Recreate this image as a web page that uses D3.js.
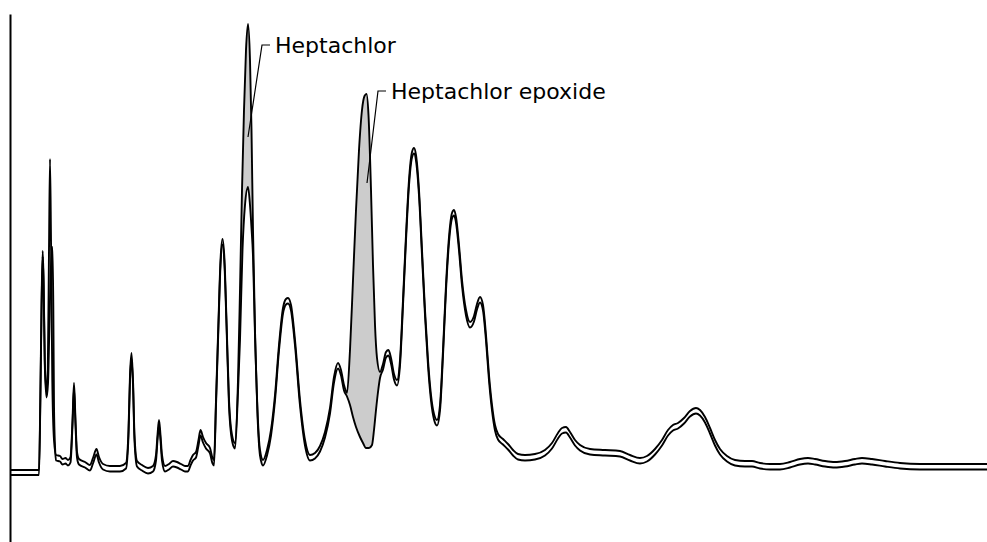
<!DOCTYPE html>
<html>
<head>
<meta charset="utf-8">
<script src="https://cdn.jsdelivr.net/npm/d3@7"></script>
<style>
  body { margin: 0; background: #fff; }
  svg { display: block; }
  .trace { fill: none; stroke: #000; stroke-width: 1.9; stroke-linejoin: round; }
  .leader { fill: none; stroke: #000; stroke-width: 1.2; }
  .label { font-family: "DejaVu Sans", sans-serif; font-size: 22px; fill: #000; }
</style>
</head>
<body>
<div class="viz"></div>
<script>
const width = 987;
const height = 542;

// retention time (min), detector signal — upper trace (sample)
const sampleTrace = [
  [0, 1.2], [1.425, 1.2], [1.45, 1.2], [1.515, 15.2], [1.58, 35.2], [1.635, 45], [1.68, 39.2], [1.74, 23.2],
  [1.825, 16.8], [1.89, 21.2], [1.95, 45.2], [2.0, 63.4], [2.05, 47.2], [2.115, 19.2], [2.2, 7.2], [2.3, 4.2],
  [2.5, 4], [2.625, 3.4], [2.775, 3.6], [2.9, 3.2], [3.025, 3.8], [3.125, 11.2], [3.2, 18.6], [3.275, 11.2],
  [3.35, 4.8], [3.45, 3.4], [3.75, 2.8], [4.0, 2.2], [4.15, 3.6], [4.325, 5.4], [4.45, 3.8], [4.65, 2.4],
  [5.0, 2.0], [5.5, 2.0], [5.8, 2.6], [5.925, 9.2], [6.0, 20.2], [6.075, 24.6], [6.15, 19.2], [6.225, 8.2],
  [6.35, 3], [6.6, 2.2], [6.9, 1.6], [7.15, 2], [7.3, 4.2], [7.375, 8.2], [7.45, 11.2], [7.525, 8.2],
  [7.6, 4.2], [7.75, 2], [7.95, 2.4], [8.15, 3], [8.35, 2.8], [8.55, 2.4], [8.75, 2], [8.9, 2],
  [9.025, 3.2], [9.15, 4.2], [9.3, 4.8], [9.425, 7.2], [9.525, 9.2], [9.65, 7.8], [9.8, 6.6], [10.0, 5.6],
  [10.125, 3.6], [10.2, 3.2], [10.3, 15.2], [10.425, 31.2], [10.525, 43.2], [10.625, 47.4], [10.725, 43.2],
  [10.825, 31.2], [10.95, 15.2], [11.1, 8.2], [11.25, 6.6], [11.4, 19.2], [11.5, 37.2], [11.6, 57.2],
  [11.7, 73.2], [11.8, 85.2], [11.9, 90.4], [12.0, 83.2], [12.075, 69.2], [12.15, 49.2], [12.25, 29.2],
  [12.375, 13.2], [12.5, 5.2], [12.65, 3.2], [12.85, 5.2], [13.05, 9.2], [13.25, 16.2], [13.45, 26.2],
  [13.65, 33.6], [13.8, 35.4], [13.9, 35.6], [14.05, 34.2], [14.25, 27.2], [14.5, 15.2], [14.75, 7.2],
  [15.0, 4.2], [15.25, 4.6], [15.5, 6], [15.75, 8.8], [16.0, 13.6], [16.2, 19.8], [16.4, 22.6], [16.55, 21.2],
  [16.7, 18.2], [16.85, 16.6], [17.0, 25.2], [17.15, 39.2], [17.3, 53.2], [17.45, 65.2], [17.6, 73.2],
  [17.725, 76], [17.825, 76.4], [17.925, 72.2], [18.05, 57.2], [18.15, 42.2], [18.25, 30.2], [18.35, 23.6],
  [18.5, 20.8], [18.65, 22.4], [18.8, 24.8], [18.925, 25.2], [19.05, 23.6], [19.2, 20.4], [19.35, 19.2],
  [19.5, 23.2], [19.65, 35.2], [19.8, 48.2], [19.95, 59.2], [20.1, 64.8], [20.2, 65.6], [20.3, 64.2],
  [20.45, 57.2], [20.6, 45.2], [20.75, 33.2], [20.9, 23.2], [21.05, 16.2], [21.2, 12.4], [21.35, 11.2],
  [21.5, 14.2], [21.65, 25.2], [21.8, 38.2], [21.95, 47.8], [22.1, 52.6], [22.2, 53.2], [22.3, 51.8],
  [22.45, 46.2], [22.6, 39.2], [22.8, 33.2], [23.0, 30.8], [23.2, 32], [23.35, 34.4], [23.5, 35.8],
  [23.65, 34.2], [23.8, 28.2], [23.95, 20.2], [24.1, 14.2], [24.25, 10.2], [24.4, 8.4], [24.65, 7.4],
  [24.9, 6.4], [25.15, 5.2], [25.4, 4.4], [25.75, 4.2], [26.25, 4.4], [26.75, 5.2], [27.1, 6.6], [27.4, 8.6],
  [27.6, 9.6], [27.8, 9.8], [28.0, 8.8], [28.25, 7.2], [28.5, 6.2], [29.0, 5.4], [29.75, 5.2], [30.5, 5.0],
  [31.0, 4.2], [31.5, 3.6], [31.85, 4.0], [32.25, 5.4], [32.6, 7.2], [32.9, 9.2], [33.15, 10.2], [33.4, 10.6],
  [33.7, 11.6], [34.0, 13.0], [34.3, 13.6], [34.5, 13.2], [34.75, 11.8], [35.0, 9.6], [35.25, 7.2],
  [35.5, 5.4], [35.85, 4.0], [36.25, 3.2], [36.75, 3.0], [37.1, 3.0], [37.5, 2.6], [38.0, 2.4], [38.5, 2.4],
  [39.0, 2.8], [39.5, 3.4], [39.9, 3.6], [40.25, 3.4], [40.75, 3.0], [41.25, 2.8], [41.75, 3.0], [42.25, 3.4],
  [42.6, 3.6], [43.1, 3.4], [43.75, 3.0], [44.5, 2.6], [45.5, 2.4], [47.0, 2.4], [48.85, 2.4]
];

// lower trace (reference)
const referenceTrace = [
  [0, 0.2], [1.425, 0.2], [1.45, 0.2], [1.515, 14.1], [1.58, 34.1], [1.635, 43.9], [1.68, 38.1], [1.74, 22.1],
  [1.825, 15.7], [1.9, 18.5], [1.97, 30], [2.03, 40], [2.125, 45.8], [2.165, 34], [2.2, 14], [2.25, 6],
  [2.3, 3.1], [2.5, 2.9], [2.625, 2.3], [2.775, 2.5], [2.9, 2.1], [3.025, 2.7], [3.125, 10.1], [3.2, 17.5],
  [3.275, 10.1], [3.35, 3.7], [3.45, 2.3], [3.75, 1.7], [4.0, 1.1], [4.15, 2.5], [4.325, 4.3], [4.45, 2.7],
  [4.65, 1.3], [5.0, 0.9], [5.5, 0.9], [5.8, 1.5], [5.925, 8.1], [6.0, 19.1], [6.075, 23.5], [6.15, 18.1],
  [6.225, 7.1], [6.35, 1.9], [6.6, 1.1], [6.9, 0.5], [7.15, 0.9], [7.3, 3.1], [7.375, 7.1], [7.45, 10.1],
  [7.525, 7.1], [7.6, 3.1], [7.75, 0.9], [7.95, 1.3], [8.15, 1.9], [8.35, 1.7], [8.55, 1.3], [8.75, 0.9],
  [8.9, 0.9], [9.025, 2.1], [9.15, 3.1], [9.3, 3.7], [9.425, 6.1], [9.525, 8.1], [9.65, 6.7], [9.8, 5.5],
  [10.0, 4.5], [10.125, 2.5], [10.2, 2.1], [10.3, 14.1], [10.425, 30.1], [10.525, 42.1], [10.625, 46.3],
  [10.725, 42.1], [10.825, 30.1], [10.95, 14.1], [11.1, 7.1], [11.25, 5.5], [11.4, 16.8], [11.5, 27.2],
  [11.625, 45.2], [11.75, 54.2], [11.9, 57.8], [12.0, 54.2], [12.075, 49.6], [12.15, 44], [12.25, 28.1],
  [12.375, 12.1], [12.5, 4.1], [12.65, 2.1], [12.85, 4.1], [13.05, 8.1], [13.25, 15.1], [13.45, 25.1],
  [13.65, 32.5], [13.8, 34.3], [13.9, 34.5], [14.05, 33.1], [14.25, 26.1], [14.5, 14.1], [14.75, 6.1],
  [15.0, 3.1], [15.25, 3.5], [15.5, 4.9], [15.75, 7.7], [16.0, 12.5], [16.2, 18.7], [16.4, 21.5], [16.55, 20.1],
  [16.7, 17.1], [16.85, 15.9], [17.0, 14.2], [17.15, 11.8], [17.3, 9.8], [17.5, 7.8], [17.65, 6.6],
  [17.8, 5.6], [17.95, 5.6], [18.1, 6.2], [18.2, 9.2], [18.3, 13.2], [18.4, 16.8], [18.5, 19.6], [18.65, 21.3],
  [18.8, 23.7], [18.925, 24.1], [19.05, 22.5], [19.2, 19.3], [19.35, 18.1], [19.5, 22.1], [19.65, 34.1],
  [19.8, 47.1], [19.95, 58.1], [20.1, 63.7], [20.2, 64.5], [20.3, 63.1], [20.45, 56.1], [20.6, 44.1],
  [20.75, 32.1], [20.9, 22.1], [21.05, 15.1], [21.2, 11.3], [21.35, 10.1], [21.5, 13.1], [21.65, 24.1],
  [21.8, 37.1], [21.95, 46.7], [22.1, 51.5], [22.2, 52.1], [22.3, 50.7], [22.45, 45.1], [22.6, 38.1],
  [22.8, 32.1], [23.0, 29.7], [23.2, 30.9], [23.35, 33.3], [23.5, 34.7], [23.65, 33.1], [23.8, 27.1],
  [23.95, 19.1], [24.1, 13.1], [24.25, 9.1], [24.4, 7.3], [24.65, 6.3], [24.9, 5.3], [25.15, 4.1],
  [25.4, 3.3], [25.75, 3.1], [26.25, 3.3], [26.75, 4.1], [27.1, 5.5], [27.4, 7.5], [27.6, 8.5], [27.8, 8.7],
  [28.0, 7.7], [28.25, 6.1], [28.5, 5.1], [29.0, 4.3], [29.75, 4.1], [30.5, 3.9], [31.0, 3.1], [31.5, 2.5],
  [31.85, 2.9], [32.25, 4.3], [32.6, 6.1], [32.9, 8.1], [33.15, 9.1], [33.4, 9.5], [33.7, 10.5], [34.0, 11.9],
  [34.3, 12.5], [34.5, 12.1], [34.75, 10.7], [35.0, 8.5], [35.25, 6.1], [35.5, 4.3], [35.85, 2.9],
  [36.25, 2.1], [36.75, 1.9], [37.1, 1.9], [37.5, 1.5], [38.0, 1.3], [38.5, 1.3], [39.0, 1.7], [39.5, 2.3],
  [39.9, 2.5], [40.25, 2.3], [40.75, 1.9], [41.25, 1.7], [41.75, 1.9], [42.25, 2.3], [42.6, 2.5], [43.1, 2.3],
  [43.75, 1.9], [44.5, 1.5], [45.5, 1.3], [47.0, 1.3], [48.85, 1.3]
];

// identified compounds: name, shaded window (start, end), point the leader touches
const compounds = ["Heptachlor", "Heptachlor epoxide"];
const windowStart = [11.25, 16.85];
const windowEnd = [12.65, 18.5];
const leaderTime = [11.9, 17.85];
const leaderSignal = [67.8, 58.6];

const x = d3.scaleLinear().domain([0, 48.85]).range([10, 987]);
const y = d3.scaleLinear().domain([-13.2, 92.4]).range([542, 14]);

const svg = d3.select(".viz")
  .append("svg")
  .attr("width", width)
  .attr("height", height);

const defs = svg.append("defs");

// region above the reference trace, used to keep the fill between the two traces
defs.append("clipPath")
  .attr("id", "above-ref")
  .append("path")
  .attr("d", d3.area()
    .x(d => x(d[0]))
    .y0(0)
    .y1(d => y(d[1]))
    .curve(d3.curveMonotoneX)(referenceTrace));

compounds.forEach((name, i) => {
  defs.append("clipPath")
    .attr("id", "win-" + i)
    .append("rect")
    .attr("x", x(windowStart[i]))
    .attr("y", 0)
    .attr("width", x(windowEnd[i]) - x(windowStart[i]))
    .attr("height", height);
});

const underSample = d3.area()
  .x(d => x(d[0]))
  .y0(height)
  .y1(d => y(d[1]))
  .curve(d3.curveMonotoneX);

compounds.forEach((name, i) => {
  svg.append("g")
    .attr("clip-path", `url(#win-${i})`)
    .append("path")
    .attr("clip-path", "url(#above-ref)")
    .attr("d", underSample(sampleTrace))
    .attr("fill", "#cccccc");
});

const line = d3.line()
  .x(d => x(d[0]))
  .y(d => y(d[1]))
  .curve(d3.curveMonotoneX);

svg.selectAll("path.trace")
  .data([referenceTrace, sampleTrace])
  .join("path")
  .attr("class", "trace")
  .attr("d", line);

// left axis: bare line, no ticks
svg.append("g")
  .attr("transform", `translate(${x(0)},0)`)
  .call(d3.axisLeft(y).ticks(0).tickSizeOuter(0))
  .call(g => g.select(".domain").attr("stroke", "#000").attr("stroke-width", 2));

// labels with leaders
const labelElbow = [[262, 45], [378, 91]];
compounds.forEach((name, i) => {
  const [ex, ey] = labelElbow[i];
  svg.append("path")
    .attr("class", "leader")
    .attr("d", `M${x(leaderTime[i])},${y(leaderSignal[i])}L${ex},${ey}L${ex + 8},${ey}`);
  svg.append("text")
    .attr("class", "label")
    .attr("x", ex + 13)
    .attr("y", ey + 8)
    .text(name);
});
</script>
</body>
</html>
